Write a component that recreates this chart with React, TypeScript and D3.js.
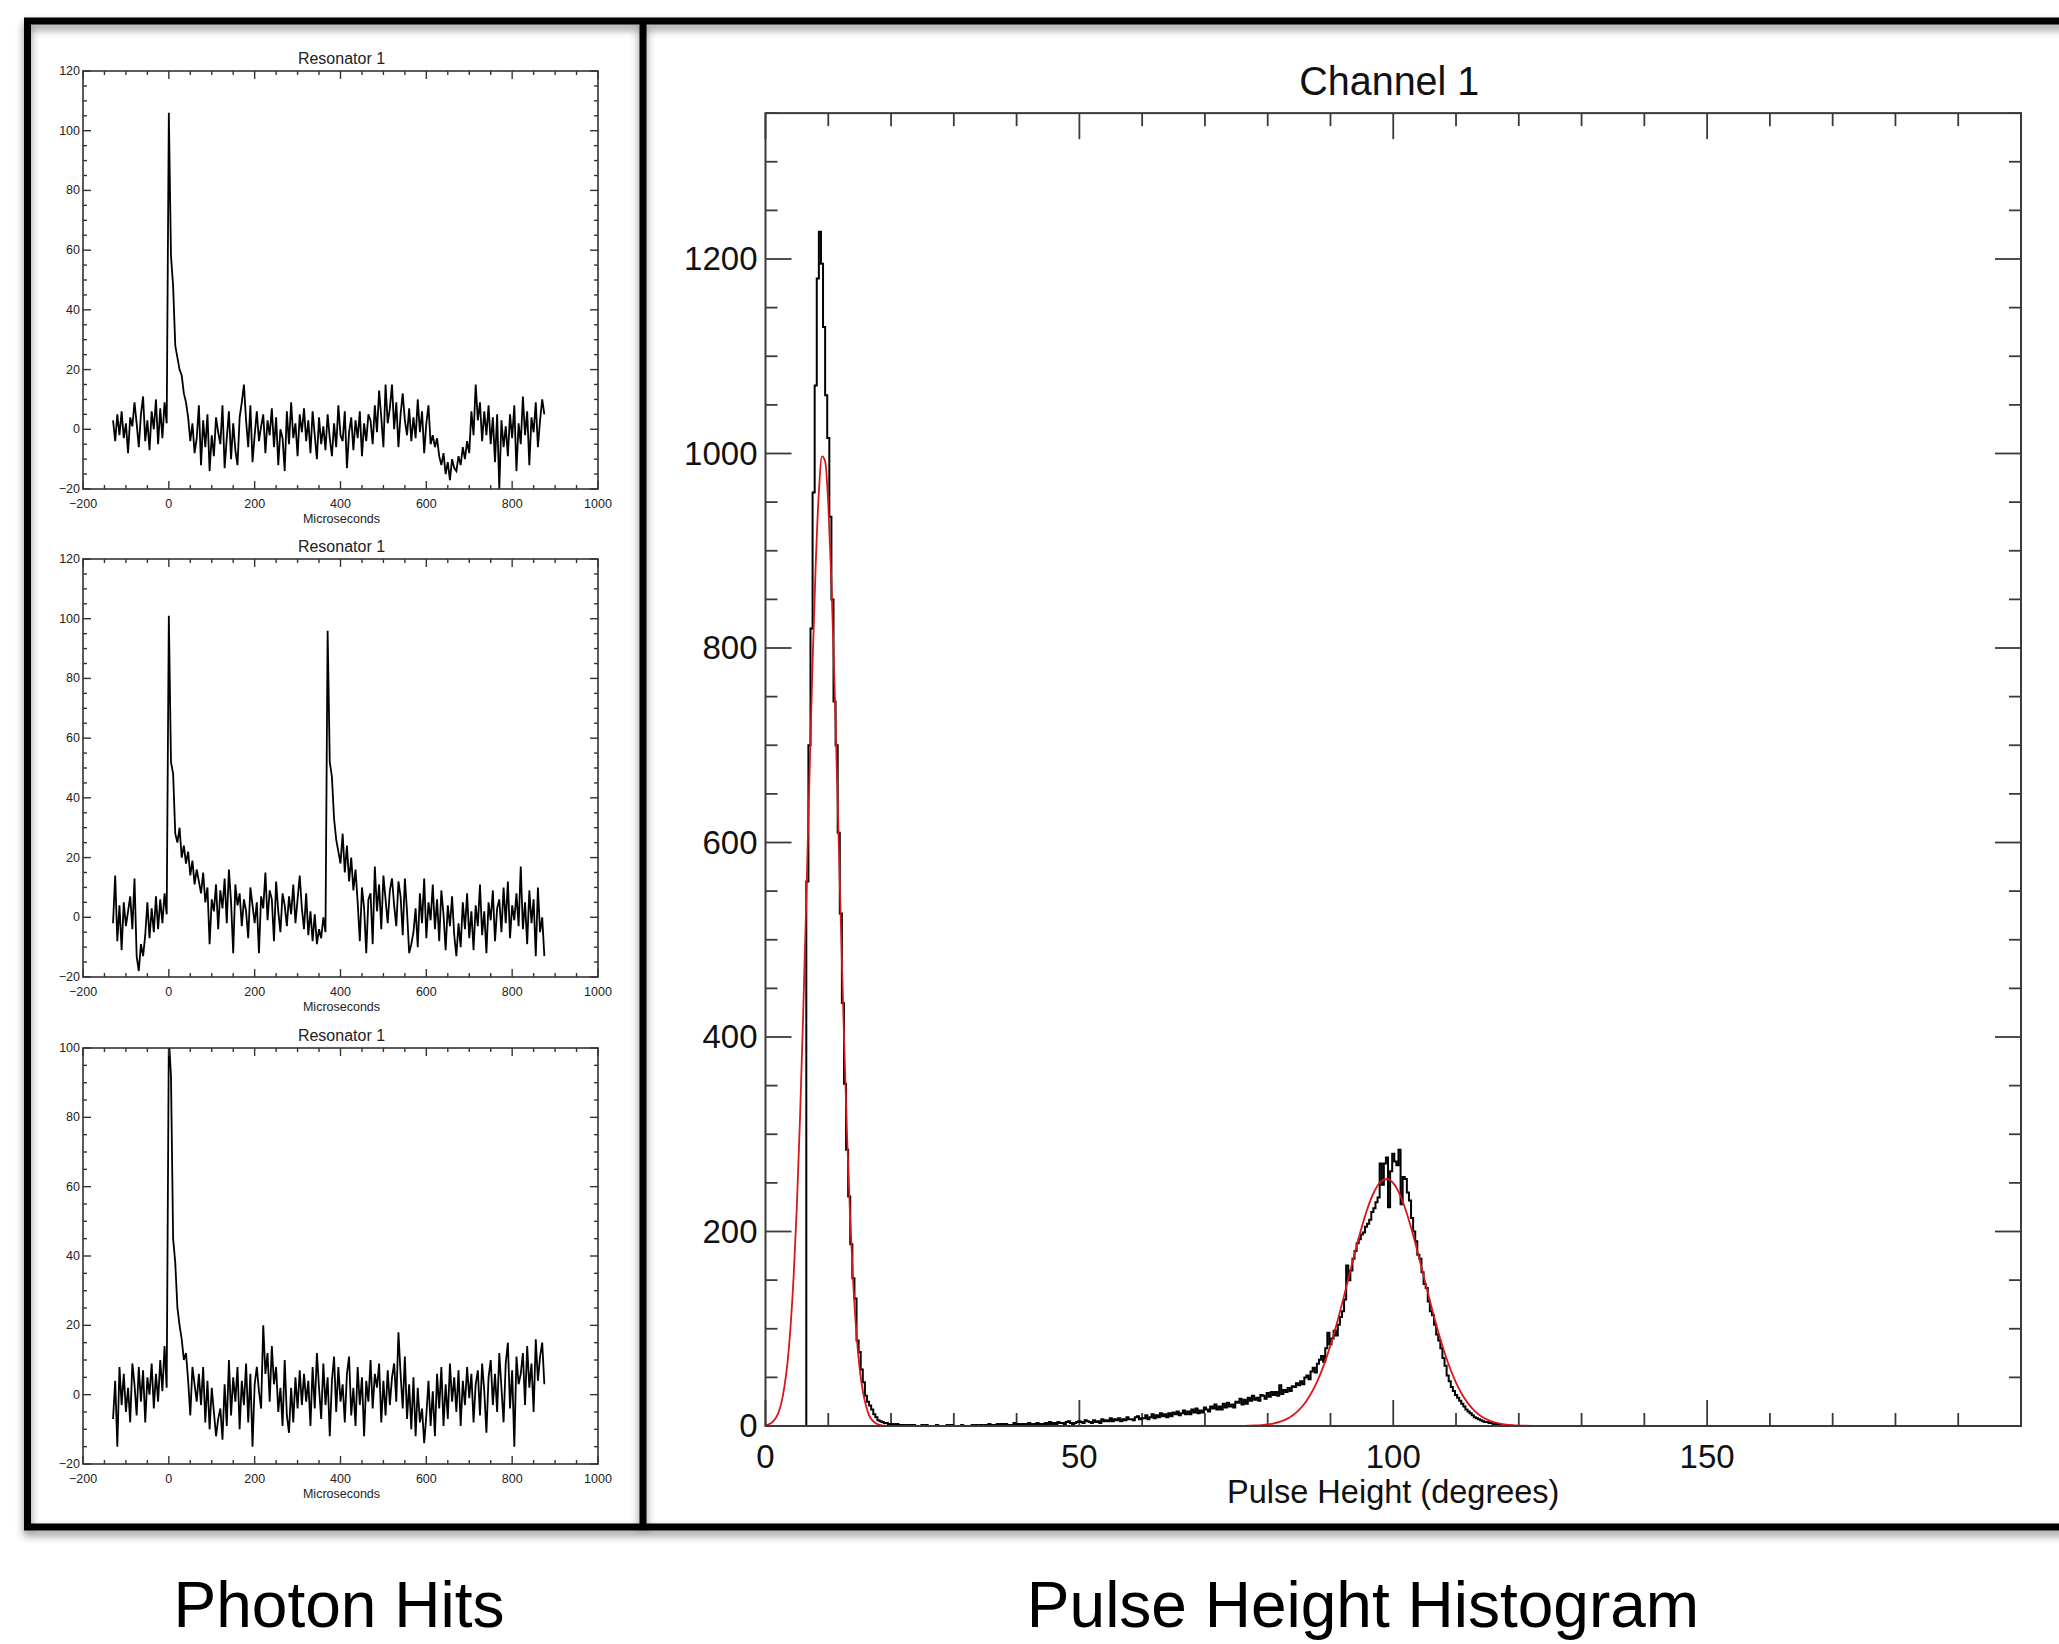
import React from 'react';
import * as d3 from 'd3';

const W = 2059;
const H = 1644;
const FONT = '"Liberation Sans", Arial, Helvetica, sans-serif';

// ---------------- Photon hits (three resonator traces) ----------------
const hitTimeStart = -130; // microseconds
const hitTimeStep = 5;
const hitXTicks = [-200, 0, 200, 400, 600, 800, 1000];
const hitYTicksA = [-20, 0, 20, 40, 60, 80, 100, 120];
const hitYTicksB = [-20, 0, 20, 40, 60, 80, 100];

const hits1 = [
  3, -4, 5, -2, 6, -3, 2, -8, 4, 1,
  9, 2, -6, 5, 11, -4, 3, -7, 6, 0,
  10, -5, 7, -3, 9, 2, 106, 58, 48, 28,
  24, 20, 18, 12, 9, 4, -4, 2, -8, -3,
  8, -12, 3, -6, 5, -14, -2, -9, 4, -1,
  -5, 8, -13, -3, 6, -10, 2, -7, -12, 4,
  9, 15, 3, -6, 8, -11, -2, 6, -4, 1,
  5, -8, 3, -2, 7, -6, 4, -12, 0, -3,
  -14, 6, -5, 9, -3, 2, -9, 5, -1, 7,
  -4, 3, -8, 6, -2, -10, 4, -5, 1, -7,
  5, -3, -9, 2, -6, 8, -2, -4, 6, -13,
  -1, 4, -7, 3, -3, 6, -9, 2, -4, 5,
  3, -5, 8, -1, 13, 4, -6, 15, 2, 7,
  15, 0, 9, -6, 5, 12, 3, -2, 7, -4,
  4, -3, 10, -1, 6, -8, 2, 8, -5, -2,
  -6, -3, -9, -12, -8, -15, -11, -17, -10, -13,
  -14, -9, -12, -6, -10, -4, -8, 6, -2, 15,
  3, 9, -4, 6, -2, 8, -5, 4, -11, 5,
  -20, 3, -6, 1, -9, 5, -3, 8, -14, 2,
  -5, 11, -2, 6, -12, 4, -1, 9, -6, 3,
  10, 5,
];

const hits2 = [
  -2, 14, -8, 4, -11, 5, -3, 2, 7, -4,
  13, -13, -18, -9, -13, -6, 5, -7, 3, -5,
  7, -4, 6, -2, 8, 1, 101, 52, 48, 28,
  25, 30, 20, 24, 18, 22, 14, 19, 11, 16,
  12, 8, 15, 5, 10, -9, 6, 2, 11, -4,
  9, 3, 13, -2, 16, 5, -12, 11, 4, 8,
  -3, 6, 2, -7, 10, 4, -2, 5, -12, 7,
  3, 15, -1, 9, 6, -8, 12, 2, -5, 8,
  4, -3, 7, 1, 11, -2, 6, 14, 3, -4,
  8, -6, 2, -8, 1, -9, -4, -7, 0, -5,
  96, 52, 47, 33, 26, 22, 18, 28, 15, 24,
  12, 20, 9, 16, 5, -8, 10, 3, -12, 6,
  8, -9, 17, 2, 11, -4, 14, 6, -2, 9,
  13, 4, -3, 12, 7, -6, 13, 2, -12, -9,
  -5, 3, -10, 8, -2, 13, -7, 5, -1, 11,
  -4, 6, -8, 9, 1, -11, 4, -3, 7, -6,
  -13, -2, -10, 5, -4, 8, -7, 2, -11, 4,
  -3, 11, -6, 2, -12, 5, -1, 9, -8, 3,
  6, -5, 10, -2, 12, -7, 4, -1, 8, -3,
  17, -4, 5, -9, 9, -2, 6, -13, 10, -5,
  0, -13,
];

const hits3 = [
  -7, 4, -15, 8, -3, 6, -5, 2, -8, 9,
  3, -6, 8, -2, 7, -8, 5, 0, 9, -4,
  6, -2, 10, 1, 14, 2, 103, 92, 45, 38,
  25, 20, 16, 10, 12, 4, -6, 8, 3, -2,
  6, -3, 8, -8, 4, -10, 2, -5, -12, -7,
  -4, -13, 3, -9, 10, -6, 5, -2, 8, -10,
  4, -3, 9, -8, 6, -15, 3, 8, 1, -4,
  20, 6, 12, -2, 14, 3, 8, -5, 2, -9,
  10, -6, -11, 2, -8, 5, -4, 7, -3, 6,
  -2, 4, -9, 8, -4, 12, 2, -7, 9, -3,
  5, -12, 4, 11, -5, 8, -2, 3, -8, 6,
  11, -6, 2, -9, 8, -3, 5, -12, 4, -2,
  10, -4, 6, 2, 9, -8, 4, -6, 7, -3,
  5, 9, -2, 18, 6, -4, 11, -7, 3, -10,
  5, -12, 2, -8, -4, -14, -6, 4, -9, 1,
  -12, 6, -4, 8, -9, 3, -7, 9, -2, 5,
  -5, 7, -9, 4, -3, 8, -1, 6, -8, 3,
  7, -6, 9, 1, -11, 5, 10, -3, 6, -5,
  12, 2, -8, 9, 15, -4, 7, -15, 11, 3,
  6, 12, -3, 14, 2, 9, -5, 16, 4, 11,
  15, 3,
];

// ---------------- Pulse height histogram ----------------
const histStart = 6.5; // degrees
const histBinWidth = 1 / 3;
const histCounts = [
  // 6.5 .. 22.17
  560, 700, 820, 960, 1070, 1180, 1228, 1195, 1130, 1060, 1016, 935, 850, 745, 700, 610,
  527, 435, 352, 284, 236, 187, 152, 131, 88, 76, 58, 45, 31, 25, 21, 17, 12, 9, 6, 5,
  4, 3, 3, 2, 2, 2, 1, 2, 1, 1, 1,
  // 22.17 onwards, three bins per degree (one row = 8 degrees)
  1, 0, 1, 0, 1, 0, 0, 0, 1, 0, 1, 0, 0, 0, 0, 1, 0, 0, 0, 0, 1, 0, 1, 0,
  0, 0, 0, 1, 0, 0, 0, 0, 1, 0, 1, 0, 1, 0, 1, 0, 2, 1, 1, 0, 2, 1, 2, 0,
  2, 1, 1, 1, 3, 1, 2, 1, 2, 1, 2, 3, 2, 1, 2, 3, 2, 1, 2, 3, 2, 4, 2, 3,
  2, 4, 3, 3, 2, 4, 5, 3, 2, 3, 4, 5, 4, 3, 6, 5, 4, 3, 6, 4, 5, 3, 7, 5,
  6, 5, 8, 5, 7, 6, 8, 5, 7, 6, 9, 7, 7, 6, 9, 10, 7, 8, 8, 11, 7, 9, 12, 8,
  11, 9, 13, 10, 12, 9, 13, 10, 14, 12, 15, 11, 13, 16, 12, 15, 12, 17, 14, 18, 13, 16, 14, 19,
  17, 15, 20, 18, 22, 17, 20, 17, 23, 19, 24, 20, 22, 19, 25, 24, 28, 22, 27, 23, 29, 26, 31, 27,
  29, 26, 32, 31, 28, 34, 30, 35, 32, 35, 31, 42, 33, 37, 35, 39, 36, 41, 40, 44, 42, 46, 43, 50,
  52, 48, 56, 60, 55, 64, 68, 72, 66, 80, 96, 84, 90, 98, 93, 104, 112, 118, 130, 165, 150, 160, 172, 180,
  188, 192, 197, 199, 205, 208, 212, 220, 224, 230, 235, 270, 248, 270, 276, 225, 262, 280, 272, 268, 284, 228, 256, 254,
  240, 232, 214, 200, 190, 176, 172, 158, 146, 142, 128, 118, 114, 104, 94, 88, 80, 70, 62, 52, 46, 40, 36, 32,
  29, 26, 23, 20, 17, 15, 13, 11, 9, 8, 7, 6, 5, 4, 4, 3, 3, 2, 2, 2, 1, 1, 1, 1,
  1, 0, 0, 0, 0, 0,
];

// red Gaussian fit
const fitPeak1Start = 0;
const fitPeak1Step = 0.5;
const fitPeak1Counts = [
  0.8, 1.7, 3.5, 6.9, 12.8, 23, 40, 65, 103, 156, 227, 317, 423, 542, 666, 785, 886, 960, 997, 992,
  948, 868, 762, 641, 518, 401, 297, 212, 144, 94, 59, 36, 21, 11, 6, 3.1, 1.5, 0.7, 0.3, 0.1, 0,
];
const fitGapDegrees = [30, 40, 50, 60, 70];
const fitPeak2Start = 75;
const fitPeak2Step = 1;
const fitPeak2Counts = [
  0.08, 0.15, 0.29, 0.53, 0.95, 1.6, 2.75, 4.5, 7.1, 11, 16.6, 24.2, 34.4, 47.4, 63.6, 83,
  105.2, 129.7, 155.4, 181, 204.9, 225.6, 241.4, 251.1, 254, 249.7, 238.7, 221.8, 200.3, 175.9, 150.2, 124.6,
  100.6, 78.9, 60.1, 44.6, 32.1, 22.5, 15.3, 10.1, 6.5, 4.1, 2.5, 1.5, 0.84, 0.47, 0.25, 0.13,
];
const fitTailDegrees = [130, 160, 200];

const phXLabels = [0, 50, 100, 150];
const phYLabels = [0, 200, 400, 600, 800, 1000, 1200];

// ---------------- Components ----------------
type ResProps = { id: string; top: number; bottom: number; yMax: number; yTicks: number[]; data: number[] };

function ResonatorPlot({ id, top, bottom, yMax, yTicks, data }: ResProps) {
  const left = 83;
  const right = 598;
  const x = d3.scaleLinear().domain([-200, 1000]).range([left, right]);
  const y = d3.scaleLinear().domain([-20, yMax]).range([bottom, top]);
  const line = d3
    .line<number>()
    .x((_, i) => x(hitTimeStart + i * hitTimeStep))
    .y((d) => y(d));
  const xMinor = d3.range(-200, 1001, 50);
  const yMinor = d3.range(-20, yMax + 0.1, 5);
  const fmt = (v: number) => (v < 0 ? '\u2212' + Math.abs(v) : String(v));
  const ax = '#333';
  return (
    <g>
      <defs>
        <clipPath id={id}>
          <rect x={left} y={top} width={right - left} height={bottom - top} />
        </clipPath>
      </defs>
      <text x={(left + right) / 2 + 1} y={top - 7} fontSize={16} textAnchor="middle" fill="#222" fontFamily={FONT}>
        Resonator 1
      </text>
      <path d={line(data) || ''} fill="none" stroke="#000" strokeWidth={1.8} clipPath={`url(#${id})`} strokeLinejoin="miter" />
      <rect x={left} y={top} width={right - left} height={bottom - top} fill="none" stroke={ax} strokeWidth={1.6} />
      {xMinor.map((v) => {
        const len = v % 200 === 0 ? 8 : 4;
        return (
          <g key={'xt' + v}>
            <line x1={x(v)} x2={x(v)} y1={bottom} y2={bottom - len} stroke={ax} strokeWidth={1.4} />
            <line x1={x(v)} x2={x(v)} y1={top} y2={top + len} stroke={ax} strokeWidth={1.4} />
          </g>
        );
      })}
      {yMinor.map((v) => {
        const len = v % 20 === 0 ? 8 : 4;
        return (
          <g key={'yt' + v}>
            <line x1={left} x2={left + len} y1={y(v)} y2={y(v)} stroke={ax} strokeWidth={1.4} />
            <line x1={right} x2={right - len} y1={y(v)} y2={y(v)} stroke={ax} strokeWidth={1.4} />
          </g>
        );
      })}
      {hitXTicks.map((v) => (
        <text key={'xl' + v} x={x(v)} y={bottom + 19} fontSize={12.5} textAnchor="middle" fill="#222" fontFamily={FONT}>
          {fmt(v)}
        </text>
      ))}
      {yTicks.map((v) => (
        <text key={'yl' + v} x={left - 3} y={y(v) + 4} fontSize={12.5} textAnchor="end" fill="#222" fontFamily={FONT}>
          {fmt(v)}
        </text>
      ))}
      <text x={(left + right) / 2 + 1} y={bottom + 34} fontSize={12.5} textAnchor="middle" fill="#222" fontFamily={FONT}>
        Microseconds
      </text>
    </g>
  );
}

function HistogramPlot() {
  const left = 765.5;
  const right = 2021;
  const bottom = 1426;
  const yMaxVal = 1350;
  const top = bottom - yMaxVal * 0.9725;
  const x = d3.scaleLinear().domain([0, 200]).range([left, right]);
  const y = d3.scaleLinear().domain([0, yMaxVal]).range([bottom, top]);

  const histPts: [number, number][] = [[0, 0]];
  histCounts.forEach((c, i) => histPts.push([histStart + i * histBinWidth, c]));
  const histEnd = histStart + histCounts.length * histBinWidth;
  histPts.push([histEnd, 0]);
  histPts.push([200, 0]);
  const stepLine = d3
    .line<[number, number]>()
    .x((d) => x(d[0]))
    .y((d) => y(d[1]))
    .curve(d3.curveStepAfter);

  const fitPts: [number, number][] = [];
  fitPeak1Counts.forEach((c, i) => fitPts.push([fitPeak1Start + i * fitPeak1Step, c]));
  fitGapDegrees.forEach((g) => fitPts.push([g, 0]));
  fitPeak2Counts.forEach((c, i) => fitPts.push([fitPeak2Start + i * fitPeak2Step, c]));
  fitTailDegrees.forEach((g) => fitPts.push([g, 0]));
  const fitLine = d3
    .line<[number, number]>()
    .x((d) => x(d[0]))
    .y((d) => y(d[1]))
    .curve(d3.curveMonotoneX);

  const ax = '#3a3a3a';
  const xTicks = d3.range(0, 201, 10);
  const yTicks = d3.range(0, yMaxVal + 1, 50);

  return (
    <g>
      <defs>
        <clipPath id="histclip">
          <rect x={left} y={top} width={right - left} height={bottom - top + 2} />
        </clipPath>
      </defs>
      <text x={(left + right) / 2 - 4} y={95} fontSize={40} textAnchor="middle" fill="#111" fontFamily={FONT} textLength={180} lengthAdjust="spacingAndGlyphs">
        Channel 1
      </text>
      {xTicks.map((v) => {
        const len = v % 50 === 0 ? 26 : 13;
        return (
          <g key={'hx' + v}>
            <line x1={x(v)} x2={x(v)} y1={bottom} y2={bottom - len} stroke={ax} strokeWidth={1.8} />
            <line x1={x(v)} x2={x(v)} y1={top} y2={top + len} stroke={ax} strokeWidth={1.8} />
          </g>
        );
      })}
      {yTicks.map((v) => {
        const len = v % 200 === 0 ? 26 : 12;
        return (
          <g key={'hy' + v}>
            <line x1={left} x2={left + len} y1={y(v)} y2={y(v)} stroke={ax} strokeWidth={1.8} />
            <line x1={right} x2={right - len} y1={y(v)} y2={y(v)} stroke={ax} strokeWidth={1.8} />
          </g>
        );
      })}
      <g clipPath="url(#histclip)">
        <path d={stepLine(histPts) || ''} fill="none" stroke="#000" strokeWidth={2} />
        <path d={fitLine(fitPts) || ''} fill="none" stroke="#d8161b" strokeWidth={1.8} />
      </g>
      <rect x={left} y={top} width={right - left} height={bottom - top} fill="none" stroke={ax} strokeWidth={2} />
      {phXLabels.map((v) => (
        <text key={'hxl' + v} x={x(v)} y={bottom + 42} fontSize={33} textAnchor="middle" fill="#111" fontFamily={FONT}>
          {v}
        </text>
      ))}
      {phYLabels.map((v) => (
        <text key={'hyl' + v} x={left - 8} y={y(v) + 11} fontSize={33} textAnchor="end" fill="#111" fontFamily={FONT}>
          {v}
        </text>
      ))}
      <text x={(left + right) / 2} y={bottom + 77} fontSize={32.5} textAnchor="middle" fill="#111" fontFamily={FONT}>
        Pulse Height (degrees)
      </text>
    </g>
  );
}

export default function App() {
  return (
    <svg
      width={W}
      height={H}
      viewBox={`0 0 ${W} ${H}`}
      style={{ position: 'absolute', left: 0, top: 0, background: '#fff' }}
      xmlns="http://www.w3.org/2000/svg"
    >
      <defs>
        <filter id="shadow" x="-5%" y="-5%" width="110%" height="110%">
          <feDropShadow dx="0" dy="5" stdDeviation="4" floodColor="#000" floodOpacity="0.45" />
        </filter>
      </defs>
      <rect x={0} y={0} width={W} height={H} fill="#fff" />
      <g filter="url(#shadow)">
        <rect x={27.5} y={21} width={2100} height={1506} fill="none" stroke="#000" strokeWidth={7} />
        <line x1={643} x2={643} y1={21} y2={1527} stroke="#000" strokeWidth={7} />
      </g>

      <ResonatorPlot id="r1" top={71} bottom={489} yMax={120} yTicks={hitYTicksA} data={hits1} />
      <ResonatorPlot id="r2" top={559} bottom={977} yMax={120} yTicks={hitYTicksA} data={hits2} />
      <ResonatorPlot id="r3" top={1048} bottom={1464} yMax={100} yTicks={hitYTicksB} data={hits3} />

      <HistogramPlot />

      <text x={339} y={1627} fontSize={64} textAnchor="middle" fill="#000" fontFamily={FONT}>
        Photon Hits
      </text>
      <text x={1363} y={1627} fontSize={64} textAnchor="middle" fill="#000" fontFamily={FONT}>
        Pulse Height Histogram
      </text>
    </svg>
  );
}
